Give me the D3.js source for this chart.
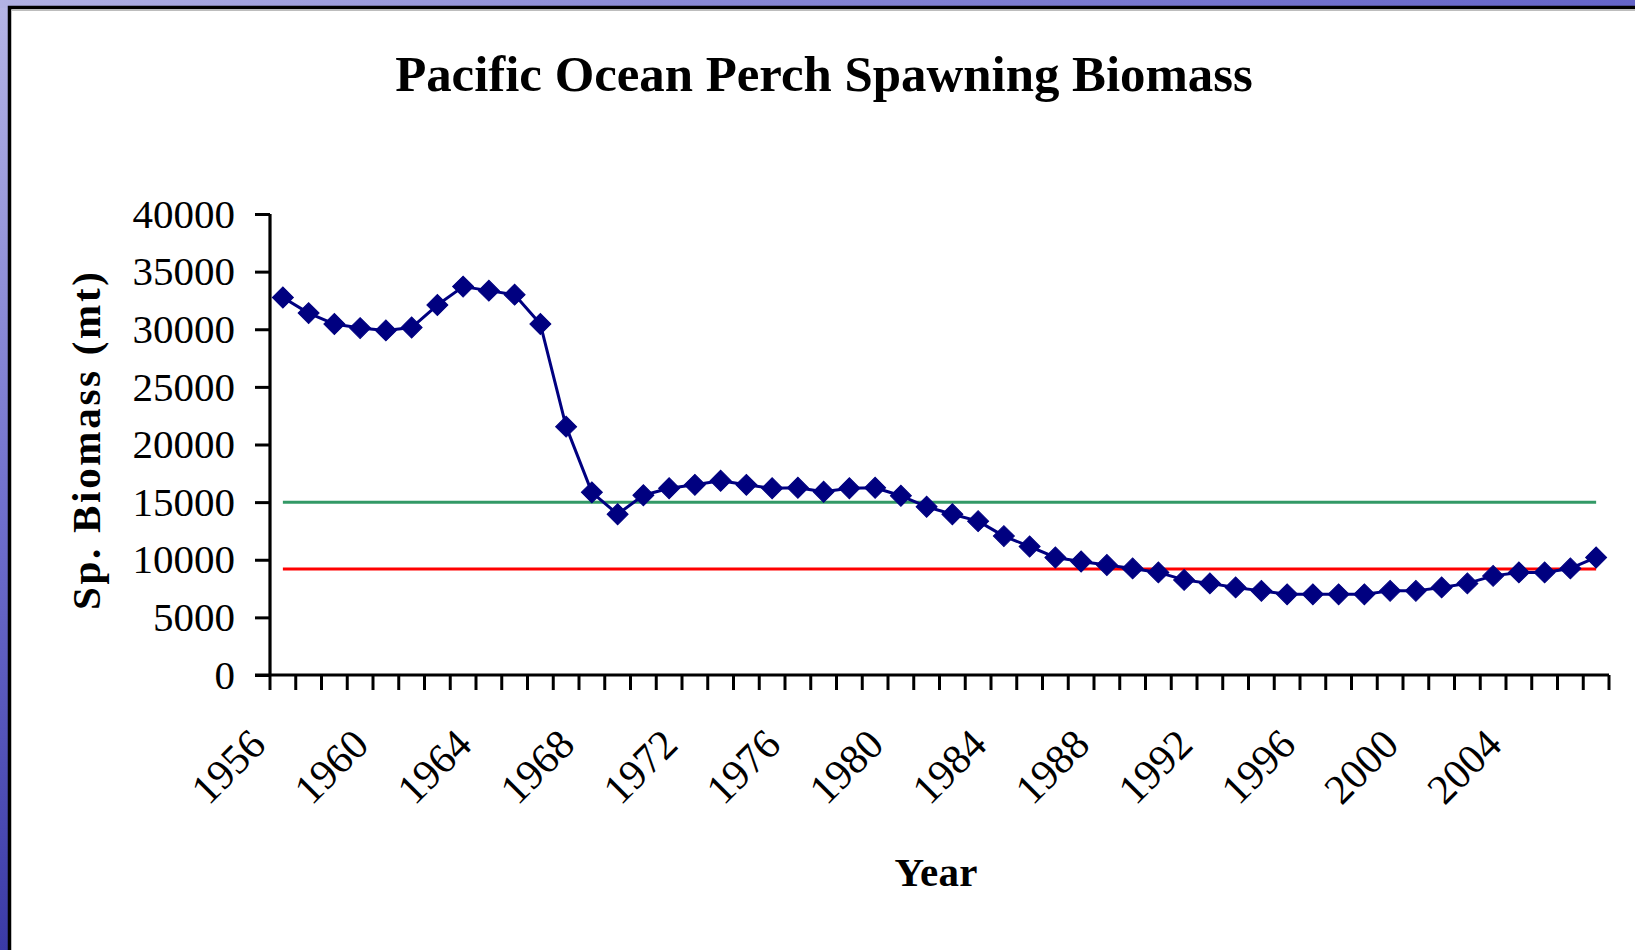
<!DOCTYPE html>
<html>
<head>
<meta charset="utf-8">
<script src="https://cdn.jsdelivr.net/npm/d3@7"></script>
<style>
  html, body { margin: 0; padding: 0; background: #fff; }
  svg { display: block; }
</style>
</head>
<body>
<svg id="chart" width="1635" height="950"></svg>
<script>
// ---- data ----
const years = d3.range(1956, 2008);
const biomass = [
  32750, 31400, 30450, 30100, 29900, 30150, 32100, 33700, 33350, 33000,
  30450, 21550, 15850, 13950, 15600, 16200, 16500, 16850, 16500, 16200,
  16250, 15900, 16200, 16250, 15550, 14600, 13950, 13350, 12050, 11150,
  10200, 9850, 9550, 9250, 8900, 8250, 7950, 7600, 7300, 7000,
  7000, 7000, 7000, 7300, 7300, 7600, 7950, 8600, 8900, 8900,
  9250, 10200
];
const targetLevel = [15000];   // green reference line
const limitLevel = [9200];     // red reference line
const yTicks = [0, 5000, 10000, 15000, 20000, 25000, 30000, 35000, 40000];
const xTickLabels = ["1956", "1960", "1964", "1968", "1972", "1976", "1980", "1984", "1988", "1992", "1996", "2000", "2004"];
const titleText = "Pacific Ocean Perch Spawning Biomass";
const yTitle = "Sp. Biomass (mt)";
const xTitle = "Year";

// ---- layout ----
const svg = d3.select("#chart");
const W = 1635, H = 950;
const plot = { left: 270, right: 1609, top: 214, bottom: 675 };
const serif = "'Liberation Serif', 'Times New Roman', Times, serif";

// background (slide)
const defs = svg.append("defs");
const gV = defs.append("linearGradient").attr("id", "bgV").attr("x1", 0).attr("y1", 0).attr("x2", 0).attr("y2", 1);
gV.append("stop").attr("offset", "0%").attr("stop-color", "#b6b6e6");
gV.append("stop").attr("offset", "55%").attr("stop-color", "#6e6ecc");
gV.append("stop").attr("offset", "100%").attr("stop-color", "#3a3aa6");
const gH = defs.append("linearGradient").attr("id", "bgH").attr("x1", 0).attr("y1", 0).attr("x2", 1).attr("y2", 0);
gH.append("stop").attr("offset", "0%").attr("stop-color", "#b2b2e4");
gH.append("stop").attr("offset", "40%").attr("stop-color", "#8a8ad6");
gH.append("stop").attr("offset", "100%").attr("stop-color", "#6464c8");

svg.append("rect").attr("x", 0).attr("y", 0).attr("width", W).attr("height", H).attr("fill", "url(#bgV)");
svg.append("rect").attr("x", 0).attr("y", 0).attr("width", W).attr("height", 8).attr("fill", "url(#bgH)");

// white panel with black frame
svg.append("rect").attr("x", 9.5).attr("y", 7.5).attr("width", W + 20).attr("height", H + 20)
  .attr("fill", "#ffffff").attr("stroke", "#000").attr("stroke-width", 3.5);
svg.append("line").attr("x1", 11.5).attr("x2", W).attr("y1", 10.5).attr("y2", 10.5)
  .attr("stroke", "#bdbdbd").attr("stroke-width", 1);

// ---- scales ----
const x = d3.scaleBand().domain(years).range([plot.left, plot.right]).paddingInner(0).paddingOuter(0);
const y = d3.scaleLinear().domain([0, 40000]).range([plot.bottom, plot.top]);
const cx = d => x(d) + x.bandwidth() / 2;

// ---- title ----
const title = svg.append("text")
  .attr("x", 824).attr("y", 91)
  .attr("text-anchor", "middle")
  .attr("font-family", serif).attr("font-weight", "bold").attr("font-size", 50)
  .attr("fill", "#000").text(titleText);
const tw = title.node().getComputedTextLength();
if (tw > 0) title.attr("font-size", 50 * 858 / tw);

// ---- y axis ----
const yAxis = d3.axisLeft(y).tickValues(yTicks).tickSize(15).tickPadding(20).tickFormat(d3.format("d"));
const gy = svg.append("g").attr("transform", `translate(${plot.left},0)`).call(yAxis);
gy.select(".domain").attr("stroke", "#000").attr("stroke-width", 3.2).attr("d", `M0,${plot.top}V${plot.bottom}`);
gy.selectAll(".tick line").attr("stroke", "#000").attr("stroke-width", 3);
gy.selectAll(".tick text").attr("font-family", serif).attr("font-size", 41).attr("fill", "#000");

// ---- x axis (ticks between categories) ----
const gx = svg.append("g");
const boundaries = years.map(d => x(d)).concat([x.range()[1]]);
gx.append("line")
  .attr("x1", plot.left - 15).attr("x2", x.range()[1])
  .attr("y1", y(0)).attr("y2", y(0))
  .attr("stroke", "#000").attr("stroke-width", 3.2);
gx.selectAll("line.tk").data(boundaries).join("line").attr("class", "tk")
  .attr("x1", d => d).attr("x2", d => d)
  .attr("y1", y(0)).attr("y2", y(0) + 15)
  .attr("stroke", "#000").attr("stroke-width", 3);
gx.selectAll("text.lbl").data(xTickLabels).join("text").attr("class", "lbl")
  .attr("transform", d => `translate(${cx(+d) - 25},737) rotate(-45)`)
  .attr("text-anchor", "end")
  .attr("dominant-baseline", "central")
  .attr("font-family", serif).attr("font-size", 42).attr("fill", "#000")
  .text(d => d);

// ---- axis titles ----
svg.append("text")
  .attr("transform", "translate(100,441) rotate(-90)")
  .attr("text-anchor", "middle")
  .attr("font-family", serif).attr("font-weight", "bold").attr("font-size", 41)
  .attr("textLength", 338).attr("lengthAdjust", "spacing")
  .attr("fill", "#000").text(yTitle);
svg.append("text")
  .attr("x", 936).attr("y", 886)
  .attr("text-anchor", "middle")
  .attr("font-family", serif).attr("font-weight", "bold").attr("font-size", 41)
  .attr("textLength", 83).attr("lengthAdjust", "spacing")
  .attr("fill", "#000").text(xTitle);

// ---- reference lines ----
const first = years[0], last = years[years.length - 1];
svg.selectAll("line.target").data(targetLevel).join("line").attr("class", "target")
  .attr("x1", cx(first)).attr("x2", cx(last))
  .attr("y1", d => y(d)).attr("y2", d => y(d))
  .attr("stroke", "#339966").attr("stroke-width", 3);
svg.selectAll("line.limit").data(limitLevel).join("line").attr("class", "limit")
  .attr("x1", cx(first)).attr("x2", cx(last))
  .attr("y1", d => y(d)).attr("y2", d => y(d))
  .attr("stroke", "#ff0000").attr("stroke-width", 3);

// ---- series ----
const pts = years.map((yr, i) => ({ yr, v: biomass[i] }));
const line = d3.line().x(d => cx(d.yr)).y(d => y(d.v));
svg.append("path").datum(pts).attr("d", line)
  .attr("fill", "none").attr("stroke", "#000080").attr("stroke-width", 3).attr("stroke-linejoin", "round");
const sym = d3.symbol().type(d3.symbolSquare).size(220);
svg.selectAll("path.mk").data(pts).join("path").attr("class", "mk")
  .attr("d", sym)
  .attr("transform", d => `translate(${cx(d.yr)},${y(d.v)}) rotate(45)`)
  .attr("fill", "#000080").attr("stroke", "#000080").attr("stroke-width", 1);
</script>
</body>
</html>
